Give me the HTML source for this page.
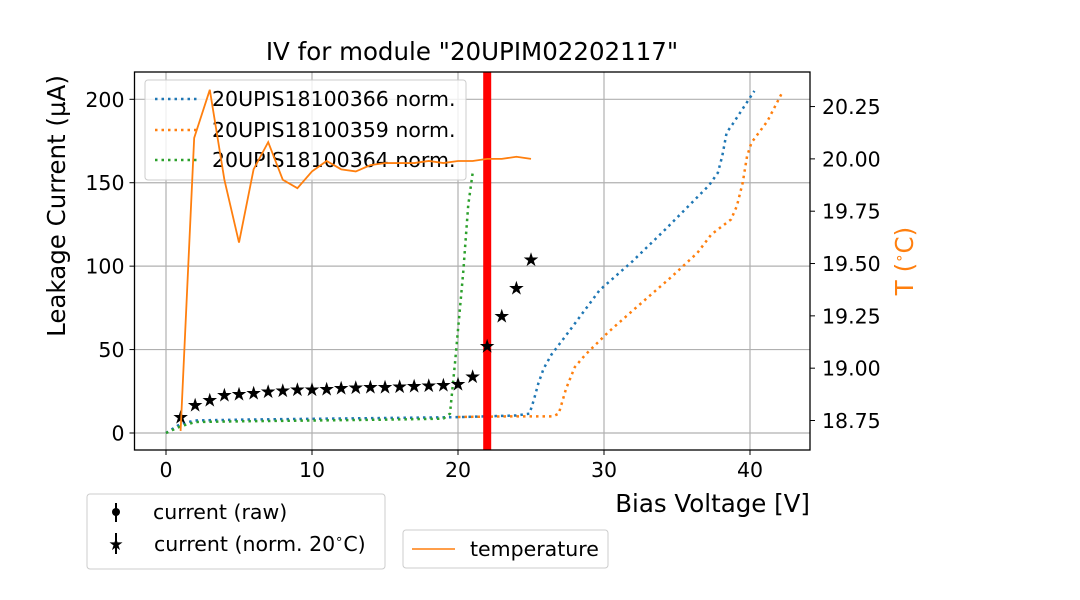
<!DOCTYPE html>
<html><head><meta charset="utf-8"><style>
html,body{margin:0;padding:0;background:#fff;}
svg{display:block;font-family:"DejaVu Sans","Liberation Sans",sans-serif;}
</style></head><body>
<svg id="chart" width="1080" height="600" viewBox="0 0 1080 600" xmlns="http://www.w3.org/2000/svg">
<rect width="1080" height="600" fill="#fff"/>
<g id="grid"></g>
<g id="marks"></g>
<g>
<rect x="145" y="80" width="321" height="100" rx="3" fill="#fff" fill-opacity="0.8" stroke="#ccc"/>
<line x1="155" y1="99" x2="197" y2="99" stroke="#1f77b4" stroke-width="2.5" stroke-dasharray="2.5 4"/>
<text x="212" y="106" font-size="20.5">20UPIS18100366 norm.</text>
<line x1="155" y1="130" x2="197" y2="130" stroke="#ff7f0e" stroke-width="2.5" stroke-dasharray="2.5 4"/>
<text x="212" y="137" font-size="20.5">20UPIS18100359 norm.</text>
<line x1="155" y1="160" x2="197" y2="160" stroke="#2ca02c" stroke-width="2.5" stroke-dasharray="2.5 4"/>
<text x="212" y="167" font-size="20.5">20UPIS18100364 norm.</text>
</g>
<g id="marks2"></g>
<g id="axes"></g>
<text x="472" y="60" font-size="24.5" text-anchor="middle">IV for module "20UPIM02202117"</text>
<text x="810" y="512" font-size="24.5" text-anchor="end">Bias Voltage [V]</text>
<text transform="translate(65,206) rotate(-90)" font-size="24.5" text-anchor="middle">Leakage Current (µA)</text>
<text transform="translate(913,261) rotate(-90)" font-size="24.5" fill="#ff7f0e" text-anchor="middle">T (<tspan font-size="15" dy="-9">∘</tspan><tspan dy="9">C)</tspan></text>

<g>
<rect x="87" y="494" width="298" height="75" rx="3" fill="#fff" stroke="#ccc"/>
<line x1="116" y1="503" x2="116" y2="522" stroke="#000" stroke-width="2"/>
<circle cx="116" cy="512" r="4" fill="#000"/>
<text x="153" y="519" font-size="20.5">current (raw)</text>
<line x1="116" y1="533" x2="116" y2="554" stroke="#000" stroke-width="2"/>
<text x="116" y="550" font-size="17" text-anchor="middle">★</text>
<text x="154" y="551" font-size="20.5">current (norm. 20<tspan font-size="13" dy="-8">∘</tspan><tspan dy="8">C)</tspan></text>
</g>
<g>
<rect x="403" y="530" width="205" height="38" rx="3" fill="#fff" stroke="#ccc"/>
<line x1="412" y1="549" x2="455" y2="549" stroke="#ff7f0e" stroke-width="1.5"/>
<text x="470" y="556" font-size="20.5">temperature</text>
</g>
</svg>
<script>
const starV=[1,2,3,4,5,6,7,8,9,10,11,12,13,14,15,16,17,18,19,20,21,22,23,24,25];
const starI=[9.6,16.8,19.8,22.8,23.4,24,25,25.5,26,26,26.5,27,27.2,27.5,27.7,28,28.2,28.5,28.7,29.5,34,52,70,87,104];
const tempV=[1,1.93,3,4,5,6,7,8,9,10,11,12,13,14,15,16,17,18,19,20,21,22,23,24,25];
const tempT=[18.70,20.10,20.33,19.90,19.60,19.95,20.08,19.90,19.86,19.94,19.99,19.95,19.94,19.97,19.98,19.98,19.98,19.99,19.98,19.99,19.99,20.0,20.0,20.01,20.0];
const blueV=[0,1,2,5,10,15,20,24,24.9,25.2,25.5,25.86,26.4,27.4,29.7,31.96,34.2,37.2,37.8,38.1,38.4,38.8,39.7,40.3];
const blueI=[0,5.5,7.5,8,8.5,9,9.5,10.5,11.6,20,29.6,38.5,47,58.5,85.6,103,122,148.5,156,166,180,185,197,205];
const orangeV=[20,22,24,26.5,26.9,27.4,28,28.7,30.3,32.1,34.6,36.4,37.35,38.7,39.1,39.5,39.8,40.1,41.2,42.2];
const orangeI=[9.6,9.8,10,10,11.6,26.5,39.5,46.7,60.5,74.4,93.4,108,119,128,136,150,166,174,187,204];
const greenV=[0,1,2,5,10,15,19,19.45,19.8,20.36,20.7,21.0];
const greenI=[0,4,6.6,7,7.5,8,8.6,11.6,42.5,96.6,136.5,155.6];
const xTicks=[0,10,20,30,40];
const yTicks=[0,50,100,150,200];
const tTicks=[18.75,19.00,19.25,19.50,19.75,20.00,20.25];
const markerV=22;

const L=134.5,R=810,T=72,B=450;
const X=v=>166+v*14.6;
const Y=i=>433-i*1.6685;
const YT=t=>420.5-(t-18.75)*209.3;
const NS='http://www.w3.org/2000/svg';
function mk(tag,parent,attrs){const e=document.createElementNS(NS,tag);for(const k in attrs)e.setAttribute(k,attrs[k]);parent.appendChild(e);return e;}
const grid=document.getElementById('grid'),marks=document.getElementById('marks'),marks2=document.getElementById('marks2'),axes=document.getElementById('axes');
xTicks.forEach(v=>{const l=mk('line',grid,{x1:X(v),x2:X(v),y1:T,y2:B,stroke:'#b0b0b0','stroke-width':1.2});


const t=mk('line',axes,{x1:X(v),x2:X(v),y1:B,y2:B+5,stroke:'#000'});


const s=mk('text',axes,{x:X(v),y:B+27,'font-size':20.5,'text-anchor':'middle'});s.textContent=v;

});
yTicks.forEach(v=>{const l=mk('line',grid,{x1:L,x2:R,y1:Y(v),y2:Y(v),stroke:'#b0b0b0','stroke-width':1.2});


const t=mk('line',axes,{x1:L-5,x2:L,y1:Y(v),y2:Y(v),stroke:'#000'});


const s=mk('text',axes,{x:L-10,y:Y(v)+7.5,'font-size':20.5,'text-anchor':'end'});s.textContent=v;

});
tTicks.forEach(v=>{const t=mk('line',axes,{x1:R,x2:R+5,y1:YT(v),y2:YT(v),stroke:'#000'});


const s=mk('text',axes,{x:R+12,y:YT(v)+7.5,'font-size':20.5});s.textContent=v.toFixed(2);

});
function line(par,xs,ys,fy,color,dash,w,name){const p=mk('polyline',par,{points:xs.map((v,i)=>X(v)+','+fy(ys[i])).join(' '),fill:'none',stroke:color,'stroke-width':w});
if(dash)p.setAttribute('stroke-dasharray',dash);

}
line(marks,blueV,blueI,Y,'#1f77b4','2.5 4',2.5,'series-20upis18100366');
line(marks,orangeV,orangeI,Y,'#ff7f0e','2.5 4',2.5,'series-20upis18100359');
line(marks,greenV,greenI,Y,'#2ca02c','2.5 4',2.5,'series-20upis18100364');
const rl=mk('line',marks,{x1:X(markerV),x2:X(markerV),y1:T,y2:B,stroke:'#ff0000','stroke-width':8});


starV.forEach((v,i)=>{const s=mk('text',marks,{x:X(v),y:Y(starI[i])+6.5,'font-size':19,'text-anchor':'middle'});s.textContent='★';

});
line(marks2,tempV,tempT,YT,'#ff7f0e',null,1.8,'temperature-line');
const fr=mk('rect',axes,{x:L,y:T,width:R-L,height:B-T,fill:'none',stroke:'#000','stroke-width':1.3});


</script>
</body></html>
